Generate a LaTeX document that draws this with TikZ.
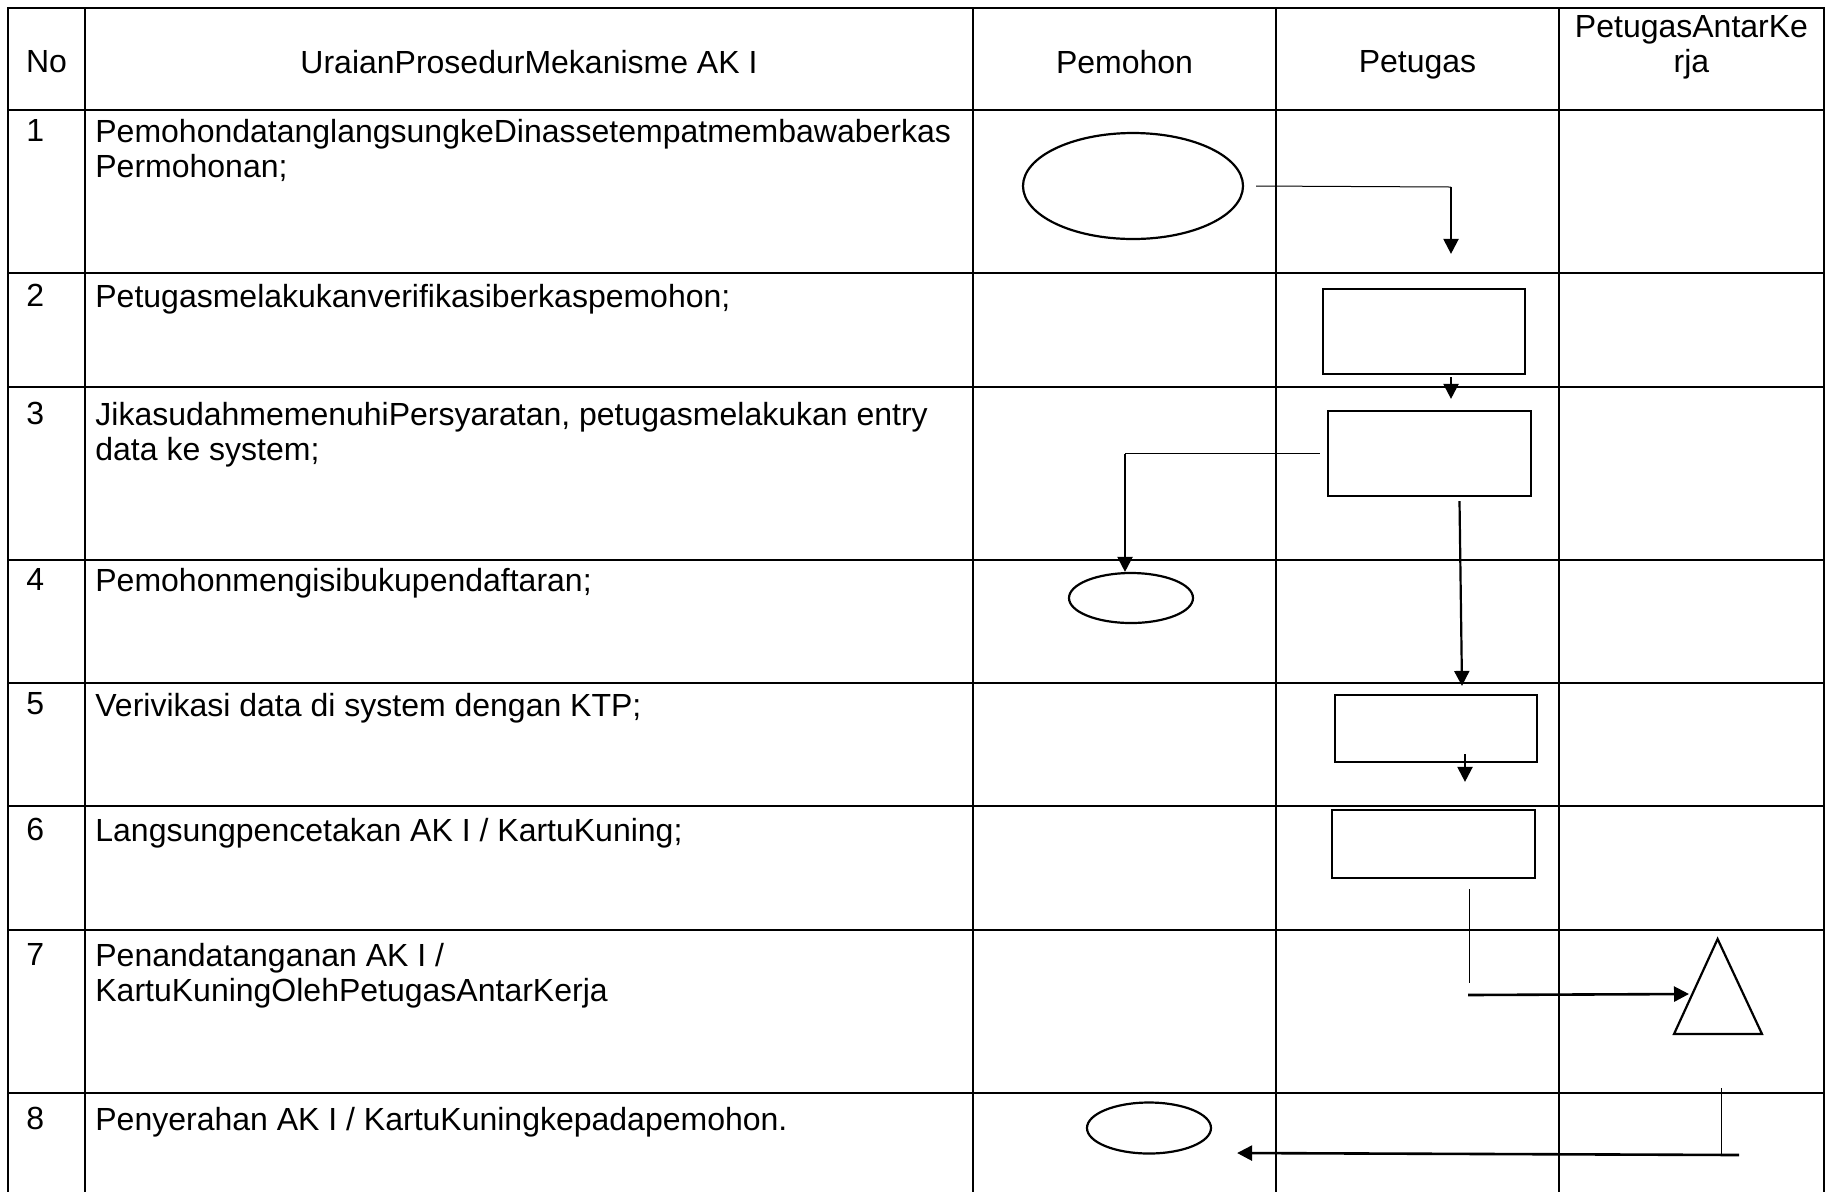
\documentclass[tikz,border=0pt]{standalone}
\usepackage{fontspec}
\setmainfont{Liberation Sans}
\usetikzlibrary{shapes.geometric,arrows.meta}
\begin{document}
\begin{tikzpicture}[x=0.5pt, y=-0.5pt,
    font=\fontsize{16}{17.5}\selectfont,
    rule/.style = {line width=1pt, line cap=rect},
    head/.style = {anchor=north, align=center, inner sep=0pt},
    cell/.style = {anchor=north west, align=left, inner sep=0pt},
    oval/.style = {draw, ellipse, line width=1.1pt, inner sep=0pt},
    box/.style = {draw, rectangle, line width=1.1pt, inner sep=0pt},
    link/.style = {line width=0.5pt},
    flow/.style = {line width=1.1pt, -{Triangle[length=7.5pt,width=7.5pt]}}]
  \fill[white] (0,0) rectangle (1826,1191);
  \useasboundingbox (0,0) rectangle (1826,1191);
  % table
  \foreach \x in {8,85,973,1276,1559,1824}
    \draw[rule] (\x,8) -- (\x,1191);
  \foreach \y in {8,110,273,387,560,683,806,930,1093}
    \draw[rule] (8,\y) -- (1824,\y);
  % header
  \node[head] (hno) at (46.5,50) {No};
  \node[head] (hur) at (529,50) {UraianProsedurMekanisme AK I};
  \node[head] (hpm) at (1124.5,50) {Pemohon};
  \node[head] (hpt) at (1417.5,50) {Petugas};
  \node[head] (hpa) at (1691.5,15) {PetugasAntarKe\\rja};
  % rows
  \node[cell] (n1) at (26,119) {1};
  \node[cell] (u1) at (95,119) {PemohondatanglangsungkeDinassetempatmembawaberkas\\Permohonan;};
  \node[cell] (n2) at (26,284) {2};
  \node[cell] (u2) at (95,284) {Petugasmelakukanverifikasiberkaspemohon;};
  \node[cell] (n3) at (26,402) {3};
  \node[cell] (u3) at (95,402) {JikasudahmemenuhiPersyaratan, petugasmelakukan entry\\data ke system;};
  \node[cell] (n4) at (26,568) {4};
  \node[cell] (u4) at (95,568) {Pemohonmengisibukupendaftaran;};
  \node[cell] (n5) at (26,692.5) {5};
  \node[cell] (u5) at (95,692.5) {Verivikasi data di system dengan KTP;};
  \node[cell] (n6) at (26,818) {6};
  \node[cell] (u6) at (95,818) {Langsungpencetakan AK I / KartuKuning;};
  \node[cell] (n7) at (26,943) {7};
  \node[cell] (u7) at (95,943) {Penandatanganan AK I /\\KartuKuningOlehPetugasAntarKerja};
  \node[cell] (n8) at (26,1107) {8};
  \node[cell] (u8) at (95,1107) {Penyerahan AK I / KartuKuningkepadapemohon.};
  % flow shapes
  \node[oval, minimum width=110pt, minimum height=53pt] (e1) at (1133,186) {};
  \node[box, minimum width=101pt, minimum height=42.5pt] (r2) at (1424,331.5) {};
  \node[box, minimum width=101.5pt, minimum height=42.5pt] (r3) at (1429.5,453.5) {};
  \node[oval, minimum width=62pt, minimum height=25pt] (e4) at (1131,598) {};
  \node[box, minimum width=101pt, minimum height=33.5pt] (r5) at (1436,728.5) {};
  \node[box, minimum width=101.5pt, minimum height=34pt] (r6) at (1433.5,844) {};
  \coordinate (t1) at (1717.6,939);
  \coordinate (t2) at (1762,1034);
  \coordinate (t3) at (1674,1034);
  \draw[line width=1.1pt, line join=miter] (t1) -- (t2) -- (t3) -- cycle;
  \node[oval, minimum width=62pt, minimum height=25.5pt] (e8) at (1149,1128) {};
  % connectors
  \coordinate (k1) at (1451,187);
  \coordinate (k3) at (1125,455);
  \coordinate (k6) at (1469,983);
  \coordinate (k7) at (1468,995);
  \coordinate (tin) at (1689,994);
  \coordinate (k8) at (1721,1088);
  \coordinate (k9) at (1721,1154);
  \coordinate (k10) at (1739,1155);
  \draw[link] ([xshift=6pt]e1.east) -- (k1);
  \draw[flow, shorten >=17pt] (k1) -- (k1 |- r2.north);
  \draw[flow, shorten <=1pt, shorten >=5.5pt] (k1 |- r2.south) -- (k1 |- r3.north);
  \draw[link] ([xshift=-3.5pt]r3.west) -- (k3 |- r3.west);
  \draw[flow] (k3 |- r3.west) -- (k3 |- e4.north);
  \draw[flow] ([xshift=15pt,yshift=-2pt]r3.south) -- ([xshift=13pt,yshift=4pt]r5.north);
  \draw[flow] ([xshift=14.5pt,yshift=4.5pt]r5.south) -- ([xshift=15.75pt,yshift=13.5pt]r6.north);
  \draw[link] ([xshift=17.75pt,yshift=-5pt]r6.south) -- (k6);
  \draw[flow, line width=1.3pt] (k7) -- (tin);
  \draw[link] (k8) -- (k9);
  \draw[flow, line width=1.3pt] (k10) -- ([xshift=12.5pt,yshift=-12.5pt]e8.east);
\end{tikzpicture}
\end{document}
